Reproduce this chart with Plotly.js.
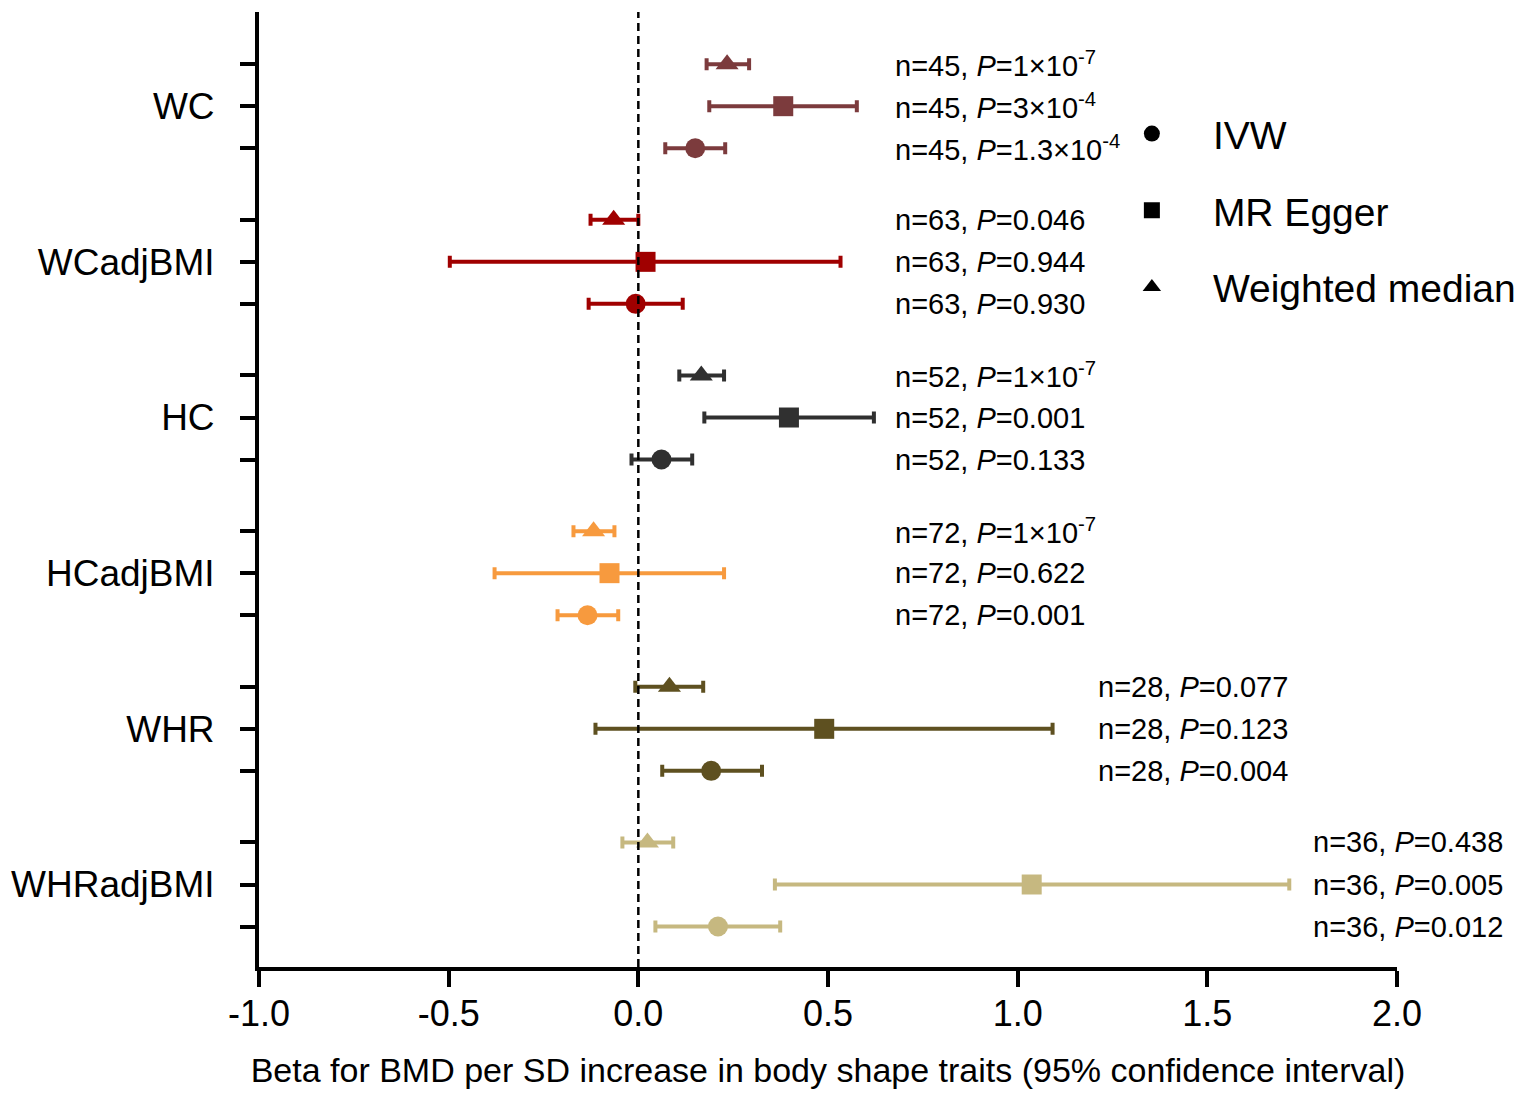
<!DOCTYPE html>
<html>
<head>
<meta charset="utf-8">
<script src="https://cdn.plot.ly/plotly-3.0.1.min.js"></script>
<style>
  html, body { margin: 0; padding: 0; background: #fff; }
  #chart { width: 1534px; height: 1102px; }
</style>
</head>
<body>
<div id="chart"></div>
<script>
// body shape traits, top to bottom
const groups = ["WC", "WCadjBMI", "HC", "HCadjBMI", "WHR", "WHRadjBMI"];
const groupColors = ["#7c3b3d", "#a00000", "#303030", "#f79a3e", "#5e5020", "#c6b880"];
const sampleSizes = [45, 63, 52, 72, 28, 36];

// Weighted median (top row of each group)
const betaWM = [0.234, -0.065, 0.166, -0.118, 0.082, 0.024];
const lowWM = [0.180, -0.126, 0.108, -0.171, -0.008, -0.042];
const highWM = [0.292, 0.000, 0.226, -0.063, 0.171, 0.092];
const pWM = ["1×10<sup>-7</sup>", "0.046", "1×10<sup>-7</sup>", "1×10<sup>-7</sup>", "0.077", "0.438"];

// MR Egger (middle row)
const betaEgger = [0.382, 0.019, 0.397, -0.076, 0.490, 1.037];
const lowEgger = [0.187, -0.497, 0.174, -0.379, -0.113, 0.360];
const highEgger = [0.576, 0.533, 0.621, 0.226, 1.092, 1.716];
const pEgger = ["3×10<sup>-4</sup>", "0.944", "0.001", "0.622", "0.123", "0.005"];

// IVW (bottom row)
const betaIVW = [0.150, -0.007, 0.061, -0.134, 0.192, 0.210];
const lowIVW = [0.071, -0.131, -0.018, -0.213, 0.063, 0.045];
const highIVW = [0.229, 0.117, 0.142, -0.053, 0.326, 0.374];
const pIVW = ["1.3×10<sup>-4</sup>", "0.930", "0.133", "0.001", "0.004", "0.012"];

const xTickVals = [-1, -0.5, 0, 0.5, 1, 1.5, 2];
const xTickText = ["-1.0", "-0.5", "0.0", "0.5", "1.0", "1.5", "2.0"];

const legendMethods = ["IVW", "MR Egger", "Weighted median"];
const legendSymbols = ["circle", "square", "triangle-up"];

// row offset inside a group, and where the n/P column sits for each group
const ROW_OFFSET = 0.27;
const labelX = [0.672, 0.672, 0.672, 0.672, 1.207, 1.774];
const FONT = "Arial, 'Liberation Sans', sans-serif";

const traces = [];
const annotations = [];
const tickVals = [];
const tickText = [];

groups.forEach((name, g) => {
  const ys = [g - ROW_OFFSET, g, g + ROW_OFFSET];
  const xs = [betaWM[g], betaEgger[g], betaIVW[g]];
  const lows = [lowWM[g], lowEgger[g], lowIVW[g]];
  const highs = [highWM[g], highEgger[g], highIVW[g]];
  const ps = [pWM[g], pEgger[g], pIVW[g]];

  traces.push({
    type: "scatter",
    mode: "markers",
    x: xs,
    y: ys,
    showlegend: false,
    hoverinfo: "skip",
    marker: {
      color: groupColors[g],
      size: 20,
      symbol: ["triangle-up", "square", "circle"],
    },
    error_x: {
      type: "data",
      symmetric: false,
      array: highs.map((h, i) => h - xs[i]),
      arrayminus: lows.map((l, i) => xs[i] - l),
      color: groupColors[g],
      thickness: 4,
      width: 6,
    },
  });

  ys.forEach((y, i) => {
    tickVals.push(y);
    tickText.push(i === 1 ? name : "");
    annotations.push({
      x: labelX[g],
      y,
      xref: "x",
      yref: "y",
      xanchor: "left",
      yanchor: "middle",
      showarrow: false,
      text: `n=${sampleSizes[g]}, <i>P</i>=${ps[i]}`,
      font: { family: FONT, size: 29, color: "#000" },
    });
  });
});

legendMethods.forEach((name, i) => {
  traces.push({
    type: "scatter",
    mode: "markers",
    x: [null],
    y: [null],
    name,
    legendgroup: name,
    marker: { color: "#000", size: 18, symbol: legendSymbols[i] },
  });
});

const layout = {
  width: 1534,
  height: 1102,
  margin: { l: 259, r: 137, t: 12, b: 135 },
  paper_bgcolor: "#fff",
  plot_bgcolor: "#fff",
  font: { family: FONT, color: "#000" },
  xaxis: {
    range: [-1, 2],
    tickvals: xTickVals,
    ticktext: xTickText,
    ticks: "outside",
    ticklen: 16,
    tickwidth: 4,
    tickcolor: "#000",
    showline: true,
    linewidth: 4,
    linecolor: "#000",
    showgrid: false,
    zeroline: false,
    tickfont: { size: 36 },
    ticklabelstandoff: -4,
    title: {
      text: "Beta for BMD per SD increase in body shape traits (95% confidence interval)",
      font: { size: 34 },
      standoff: 26,
    },
  },
  yaxis: {
    range: [5.53, -0.605],
    tickvals: tickVals,
    ticktext: tickText,
    ticks: "outside",
    ticklen: 15,
    tickwidth: 4,
    tickcolor: "#000",
    showline: true,
    linewidth: 4,
    linecolor: "#000",
    showgrid: false,
    zeroline: false,
    tickfont: { size: 37 },
    ticklabelstandoff: 18,
  },
  shapes: [
    {
      type: "line",
      xref: "x",
      yref: "paper",
      x0: 0,
      x1: 0,
      y0: 0,
      y1: 1,
      line: { color: "#000", width: 2.5, dash: "8px,5px" },
    },
  ],
  annotations,
  showlegend: true,
  legend: {
    x: 0.731,
    y: 0.906,
    xanchor: "left",
    yanchor: "top",
    bgcolor: "rgba(0,0,0,0)",
    font: { family: FONT, size: 39, color: "#000" },
    itemwidth: 112,
    tracegroupgap: 23,
  },
};

Plotly.newPlot("chart", traces, layout, { displayModeBar: false, staticPlot: true });
</script>
</body>
</html>
